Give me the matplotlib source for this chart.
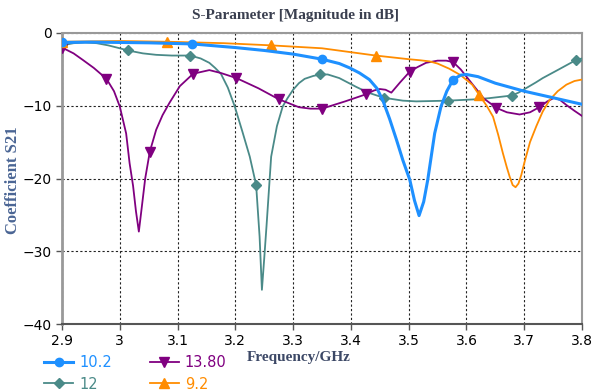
import matplotlib
matplotlib.use("Agg")
import matplotlib.pyplot as plt

# series 10.2 (blue, circles)
f_102 = [2.9, 2.95, 3.0, 3.05, 3.125, 3.2, 3.25, 3.3, 3.35, 3.38, 3.398, 3.415, 3.432,
         3.445, 3.455, 3.467, 3.479, 3.49, 3.502, 3.51, 3.518, 3.526, 3.533, 3.545,
         3.556, 3.566, 3.577, 3.59, 3.6, 3.62, 3.65, 3.7, 3.75, 3.8]
s_102 = [-1.3, -1.25, -1.3, -1.35, -1.5, -2.0, -2.4, -2.9, -3.6, -4.2, -4.8, -5.5, -6.4,
         -7.6, -9.2, -11.8, -14.7, -17.5, -20.2, -23.0, -25.1, -23.2, -20.2, -13.8,
         -10.1, -8.0, -6.4, -5.8, -5.7, -6.0, -6.9, -8.0, -8.9, -9.8]
m_102 = [0, 4, 8, 26]

# series 13.80 (purple, down triangles)
f_138 = [2.9, 2.92, 2.936, 2.955, 2.977, 2.99, 3.0, 3.011, 3.017, 3.023, 3.028, 3.033,
         3.038, 3.044, 3.052, 3.063, 3.074, 3.086, 3.104, 3.127, 3.155, 3.175, 3.202,
         3.24, 3.275, 3.31, 3.33, 3.35, 3.39, 3.427, 3.44, 3.45, 3.46, 3.47, 3.485,
         3.502, 3.515, 3.53, 3.55, 3.565, 3.577, 3.59, 3.6, 3.611, 3.63, 3.652, 3.67,
         3.692, 3.71, 3.726, 3.74, 3.752, 3.762, 3.773, 3.787, 3.8]
s_138 = [-2.0, -2.8, -3.7, -4.8, -6.3, -8.0, -10.1, -13.8, -17.9, -21.0, -24.5, -27.3,
         -24.0, -20.0, -16.3, -13.3, -11.3, -9.6, -7.3, -5.6, -5.1, -5.5, -6.2,
         -7.6, -9.1, -10.2, -10.4, -10.4, -9.4, -8.4, -7.9, -7.7, -7.8, -8.2, -6.8,
         -5.3, -4.7, -4.1, -3.8, -3.8, -4.0, -5.0, -6.0, -7.1, -9.0, -10.3, -10.9,
         -11.2, -10.9, -10.2, -9.4, -8.9, -9.2, -9.9, -10.7, -11.4]
m_138 = [0, 4, 14, 19, 22, 24, 27, 29, 35, 40, 45, 49]

# series 12 (teal, diamonds)
f_12 = [2.9, 2.92, 2.94, 2.96, 2.98, 3.0, 3.014, 3.04, 3.063, 3.09, 3.122, 3.14, 3.155,
        3.165, 3.175, 3.187, 3.199, 3.212, 3.225, 3.236, 3.242, 3.246, 3.25, 3.254,
        3.262, 3.272, 3.282, 3.29, 3.3, 3.31, 3.32, 3.335, 3.347, 3.36, 3.38, 3.409,
        3.43, 3.457, 3.49, 3.513, 3.568, 3.62, 3.64, 3.678, 3.69, 3.705, 3.72, 3.732,
        3.76, 3.79, 3.8]
s_12 = [-1.7, -1.4, -1.3, -1.4, -1.7, -2.1, -2.4, -2.8, -3.0, -3.1, -3.1, -3.5, -4.1,
        -4.8, -5.6, -7.5, -10.1, -13.5, -17.0, -20.9, -28.0, -35.3, -31.0, -26.5,
        -17.0, -12.8, -10.1, -9.0, -7.8, -6.9, -6.3, -5.9, -5.7, -5.7, -6.2, -7.4,
        -8.2, -8.9, -9.3, -9.4, -9.3, -9.1, -8.95, -8.6, -8.2, -7.5, -6.8, -6.2,
        -5.0, -3.7, -3.5]
m_12 = [0, 6, 10, 19, 32, 37, 40, 43, 49]

# series 9.2 (orange, up triangles)
f_92 = [2.9, 3.0, 3.082, 3.18, 3.262, 3.35, 3.443, 3.5, 3.52, 3.536, 3.55, 3.57, 3.59,
        3.61, 3.622, 3.635, 3.646, 3.655, 3.663, 3.67, 3.675, 3.68, 3.685, 3.69, 3.695,
        3.7, 3.71, 3.721, 3.732, 3.744, 3.758, 3.773, 3.787, 3.8]
s_92 = [-1.2, -1.1, -1.2, -1.4, -1.7, -2.1, -3.1, -3.6, -3.75, -3.9, -4.2, -4.9, -5.8,
        -7.1, -8.5, -10.0, -11.5, -14.0, -16.5, -18.5, -19.8, -20.9, -21.2, -20.7,
        -19.5, -17.9, -15.0, -12.8, -10.8, -9.2, -8.0, -7.1, -6.6, -6.4]
m_92 = [0, 2, 4, 6, 14]

x_ticks = [2.9, 3.0, 3.1, 3.2, 3.3, 3.4, 3.5, 3.6, 3.7, 3.8]
x_tick_labels = ["2.9", "3", "3.1", "3.2", "3.3", "3.4", "3.5", "3.6", "3.7", "3.8"]
y_ticks = [0, -10, -20, -30, -40]

fig = plt.figure(figsize=(5.92, 3.92), dpi=100)
ax = fig.add_axes([62 / 592, 1 - 324 / 392, 520 / 592, 291 / 392])

l1, = ax.plot(f_102, s_102, color="#1e90ff", lw=2.2, marker="o", ms=6,
              markevery=m_102, label="10.2", zorder=5)
l2, = ax.plot(f_12, s_12, color="#4a8a88", lw=1.3, marker="D", ms=5,
              markevery=m_12, label="12", zorder=4)
l3, = ax.plot(f_138, s_138, color="#800080", lw=1.3, marker="v", ms=7,
              markevery=m_138, label="13.80", zorder=4)
l4, = ax.plot(f_92, s_92, color="#ff8c00", lw=1.3, marker="^", ms=7,
              markevery=m_92, label="9.2", zorder=4)

ax.set_xlim(2.9, 3.8)
ax.set_ylim(-40, 0)
ax.set_xticks(x_ticks)
ax.set_xticklabels(x_tick_labels)
ax.set_yticks(y_ticks)
ax.tick_params(labelsize=10, length=4, width=1, colors="#555555", labelcolor="black")
ax.grid(True, color="#222222", linestyle=(0, (2, 2)), linewidth=0.8)
ax.set_axisbelow(True)

ax.spines["left"].set_color("#999999")
ax.spines["left"].set_linewidth(2)
ax.spines["bottom"].set_color("#555555")
ax.spines["bottom"].set_linewidth(1.5)
for side in ["top", "right"]:
    ax.spines[side].set_color("#999999")
    ax.spines[side].set_linewidth(1.5)

fig.text(0.5, 1 - 15 / 392, "S-Parameter [Magnitude in dB]", ha="center", va="center",
         family="Liberation Serif", weight="bold", fontsize=11, color="#3a3f4f")
fig.text(0.505, 1 - 358 / 392, "Frequency/GHz", ha="center", va="center",
         family="Liberation Serif", weight="bold", fontsize=11, color="#3c4866")
fig.text(13 / 592, 1 - 180 / 392, "Coefficient S21", ha="center", va="center",
         rotation=90, family="Liberation Serif", weight="bold", fontsize=12,
         color="#4a6594")

fig.legend(handles=[l1, l2, l3, l4], ncol=2, loc="upper left",
           bbox_to_anchor=(44 / 592, 1 - 355 / 392), frameon=False, fontsize=10.5,
           labelcolor="linecolor", handlelength=2.0, handletextpad=0.4,
           columnspacing=2.6, labelspacing=0.45, borderpad=0, borderaxespad=0)

fig.savefig("out.png", dpi=100)
